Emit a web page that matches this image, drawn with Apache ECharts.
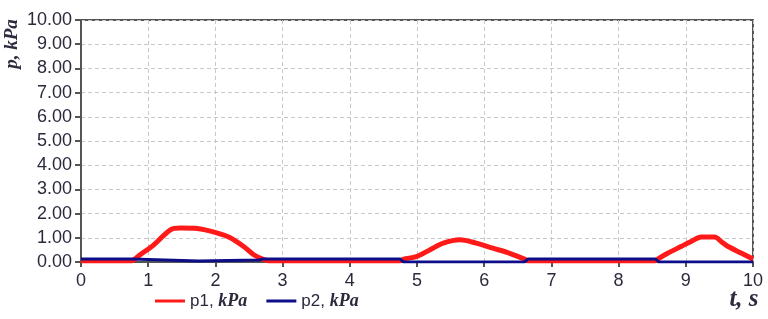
<!DOCTYPE html>
<html>
<head>
<meta charset="utf-8">
<script src="https://cdn.jsdelivr.net/npm/echarts@6/dist/echarts.min.js"></script>
<style>html,body{margin:0;padding:0;background:#fff}#c{width:768px;height:319px}</style>
</head>
<body>
<div id="c"></div>
<script>
var p1T = [0, 0.75, 0.8, 0.88, 1.08, 1.33, 1.48, 1.73, 2.02, 2.22, 2.42, 2.57, 2.72, 2.8, 4.75, 4.8, 4.99, 5.19, 5.39, 5.64, 5.88, 6.13, 6.38, 6.6, 6.65, 8.55, 8.6, 8.73, 8.93, 9.08, 9.23, 9.43, 9.53, 9.63, 9.83, 10];
var p1V = [0.05, 0.05, 0.12, 0.3, 0.7, 1.33, 1.4, 1.38, 1.2, 1.0, 0.64, 0.3, 0.1, 0.05, 0.05, 0.12, 0.22, 0.5, 0.78, 0.92, 0.78, 0.57, 0.36, 0.12, 0.05, 0.05, 0.15, 0.36, 0.64, 0.85, 1.03, 1.03, 0.84, 0.64, 0.36, 0.12];
var p2T = [0, 0.75, 0.76, 1.75, 1.76, 2.65, 2.7, 4.75, 4.8, 6.6, 6.65, 8.55, 8.6, 10];
var p2V = [0.12, 0.12, 0.04, 0.04, 0.08, 0.08, 0.12, 0.12, 0, 0, 0.12, 0.12, 0, 0];
var seriesNames = ['p1', 'p2'];
var unit = 'kPa';
var xName = 't, s';
var yName = 'p, kPa';

function pairs(t, v) { return t.map(function (x, i) { return [x, v[i]]; }); }

var chart = echarts.init(document.getElementById('c'));
var labelStyle = { color: '#2a2a3c', fontFamily: 'Liberation Sans', fontSize: 18 };
chart.setOption({
  animation: false,
  grid: { left: 81, right: 15, top: 20, bottom: 57, show: true, borderColor: '#555', borderWidth: 2, backgroundColor: 'transparent' },
  xAxis: {
    type: 'value', min: 0, max: 10, interval: 1,
    axisLine: { show: true, lineStyle: { color: '#555', width: 2 } },
    axisTick: { show: true, length: 5, lineStyle: { color: '#555', width: 2 } },
    axisLabel: Object.assign({ margin: 10 }, labelStyle),
    splitLine: { show: true, lineStyle: { color: '#c8c8c8', type: [4, 3], width: 1 } }
  },
  yAxis: {
    type: 'value', min: 0, max: 10, interval: 1,
    axisLine: { show: true, lineStyle: { color: '#555', width: 2 } },
    axisTick: { show: true, length: 6, lineStyle: { color: '#555', width: 2 } },
    axisLabel: Object.assign({ margin: 9, formatter: function (v) { return v.toFixed(2); } }, labelStyle),
    splitLine: { show: true, lineStyle: { color: '#c8c8c8', type: [4, 3], width: 1 } }
  },
  legend: {
    left: 150, top: 287,
    icon: 'rect', itemWidth: 30, itemHeight: 3, itemGap: 19,
    formatter: function (n) { return '{a|' + n + ', }{b|' + unit + '}'; },
    textStyle: {
      rich: {
        a: { fontFamily: 'Liberation Sans', fontSize: 17, color: '#2a2a3c' },
        b: { fontFamily: 'Liberation Serif', fontStyle: 'italic', fontWeight: 'bold', fontSize: 18, color: '#2a2a3c' }
      }
    },
    data: seriesNames
  },
  graphic: [
    { type: 'text', x: 12, y: 44, rotation: Math.PI / 2,
      style: { text: yName, fontFamily: 'Liberation Serif', fontStyle: 'italic', fontWeight: 'bold', fontSize: 19, fill: '#2c2c3e', textAlign: 'center', textVerticalAlign: 'middle' } },
    { type: 'text', x: 744, y: 300,
      style: { text: xName, fontFamily: 'Liberation Serif', fontStyle: 'italic', fontWeight: 'bold', fontSize: 25, fill: '#2c2c3e', textAlign: 'center', textVerticalAlign: 'middle' } }
  ],
  series: [
    { name: seriesNames[0], type: 'line', data: pairs(p1T, p1V), showSymbol: false, smooth: 0.3,
      lineStyle: { color: '#ff1a1a', width: 5 }, itemStyle: { color: '#ff1a1a' }, z: 2 },
    { name: seriesNames[1], type: 'line', data: pairs(p2T, p2V), showSymbol: false,
      lineStyle: { color: '#0d0d8a', width: 3 }, itemStyle: { color: '#0d0d8a' }, z: 3 }
  ]
});
</script>
</body>
</html>
